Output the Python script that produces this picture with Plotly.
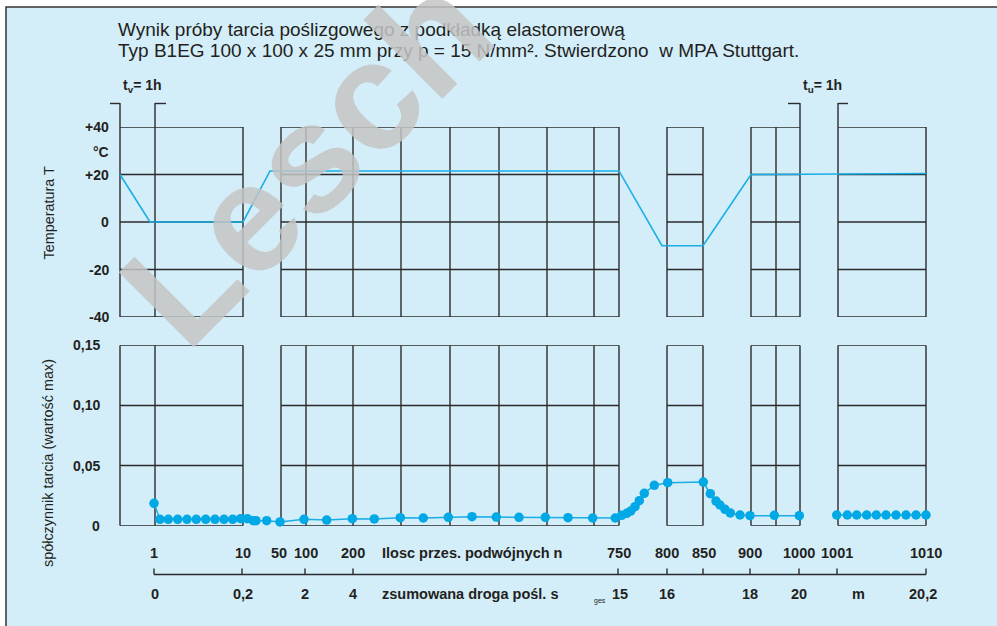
import plotly.graph_objects as go

# ---------------- data ----------------
# Horizontal scale is a broken, non-linear cycle scale; values below are
# positions on that scale (scale units).
temp_pos = [120, 150, 243, 270, 619, 662, 703, 751, 926]
temp_vals = [20, 0, 0, 21.5, 21.5, -10, -10, 20, 20.4]

fric_pos_a = [154, 160, 168.3, 177.7, 187, 196.3, 205.7, 215, 224, 232.7, 240.7,
              247.3, 253.3, 256, 266.7, 280, 304, 326.7, 352.3, 374.3, 400.3,
              423.3, 448.3, 472, 496.3, 519, 545.3, 568, 592.7, 615.3, 621.7,
              626.7, 630.7, 635, 639.3, 644.3, 654.3, 667.7, 703.3, 710.3, 716,
              720, 725, 730.3, 740, 750, 774.3, 799.3]
fric_vals_a = [0.0186, 0.0053, 0.0053, 0.0053, 0.0053, 0.0053, 0.0053, 0.0053, 0.0053, 0.0053, 0.0058,
               0.0058, 0.0042, 0.0042, 0.0042, 0.0031, 0.0053, 0.0047, 0.0058, 0.0056, 0.0067,
               0.0064, 0.0070, 0.0075, 0.0072, 0.0070, 0.0070, 0.0067, 0.0064, 0.0064, 0.0086,
               0.0103, 0.0122, 0.0158, 0.0208, 0.0269, 0.0336, 0.0358, 0.0363, 0.0266, 0.0205,
               0.0172, 0.0136, 0.0106, 0.0089, 0.0083, 0.0086, 0.0083]
fric_pos_b = [836.7, 847.3, 856.7, 866.7, 876.3, 886, 896, 906, 916, 926]
fric_vals_b = [0.0089] * 10

temp_ticks = [40, 20, 0, -20, -40]
temp_tick_text = ["+40", "+20", "0", "-20", "-40"]
fric_ticks = [0.15, 0.10, 0.05, 0]
fric_tick_text = ["0,15", "0,10", "0,05", "0"]

cycle_labels = ["1", "10", "50", "100", "200", "750", "800", "850", "900", "1000", "1001", "1010"]
dist_labels = ["0", "0,2", "2", "4", "15", "16", "18", "20", "m", "20,2"]

title_1 = "Wynik próby tarcia poślizgowego z podkładką elastomerową"
title_2 = "Typ B1EG 100 x 100 x 25 mm przy p = 15 N/mm². Stwierdzono\u00a0\u00a0w MPA Stuttgart."

# ---------------- layout constants ----------------
W, H = 997, 626
BLUE_BG = "#d3edf9"
INK = "#231f20"
GRID = "#2b2b2b"
LINE_BLUE = "#1aaee6"
MARK_BLUE = "#00a8e6"
FONT = "Liberation Sans, Arial, sans-serif"

boxes = [(120, 243), (281, 619), (667, 703), (751, 800), (838, 926)]
inner_lines = [155, 306, 353, 401, 450, 499, 547, 594, 776]
cycle_label_pos = [154, 242.5, 279, 305.5, 352.5, 619, 667, 703.5, 750, 799, 836.7, 926]
dist_label_pos = [155, 242.5, 305, 352.5, 620, 667, 749.5, 799, 858, 923]
axis_tick_pos = [154, 242, 305, 353, 618, 667, 703, 750, 799, 837, 926]


def py(p):
    """pixel-from-top to paper fraction"""
    return 1 - p / H


shapes = []
# blue frame
shapes.append(dict(type="rect", xref="paper", yref="paper", x0=6 / W, x1=1.01, y0=-0.01, y1=py(7),
                   fillcolor=BLUE_BG, line=dict(color="#333333", width=1.5), layer="below"))


def hline(x0, x1, y, yref):
    shapes.append(dict(type="line", xref="x", yref=yref, x0=x0, x1=x1, y0=y, y1=y,
                       line=dict(color=GRID, width=1.4), layer="below"))


def vline(x, y0, y1, yref):
    shapes.append(dict(type="line", xref="x", yref=yref, x0=x, x1=x, y0=y0, y1=y1,
                       line=dict(color=GRID, width=1.4), layer="below"))


for (a, b) in boxes:
    for t in temp_ticks:
        hline(a, b, t, "y")
    for f in fric_ticks:
        hline(a, b, f, "y2")
    for xx in (a, b):
        vline(xx, -40, 40, "y")
        vline(xx, 0, 0.15, "y2")
    for xx in inner_lines:
        if a < xx < b:
            vline(xx, -40, 40, "y")
            vline(xx, 0, 0.15, "y2")

# t_v / t_u markers above temperature panel
for xx in (120, 155, 800, 838):
    shapes.append(dict(type="line", xref="x", yref="paper", x0=xx, x1=xx, y0=py(103), y1=py(127),
                       line=dict(color=GRID, width=1.4), layer="below"))
for (a, b) in [(110, 120), (155, 166), (788, 800), (838, 848)]:
    shapes.append(dict(type="line", xref="x", yref="paper", x0=a, x1=b, y0=py(103.5), y1=py(103.5),
                       line=dict(color=GRID, width=1.4), layer="below"))

# bottom double scale axis
shapes.append(dict(type="line", xref="x", yref="paper", x0=axis_tick_pos[0], x1=axis_tick_pos[-1],
                   y0=py(574.5), y1=py(574.5), line=dict(color=GRID, width=1.4), layer="below"))
for xx in axis_tick_pos:
    shapes.append(dict(type="line", xref="x", yref="paper", x0=xx, x1=xx, y0=py(574.5), y1=py(568.5),
                       line=dict(color=GRID, width=1.4), layer="below"))

annotations = []


def txt(x, y, text, size=14, xanchor="center", bold=True, yref="paper", color=INK, angle=0, family=FONT):
    annotations.append(dict(x=x, y=y, xref="x", yref=yref, text=(f"<b>{text}</b>" if bold else text),
                            showarrow=False, xanchor=xanchor, yanchor="middle", textangle=angle,
                            font=dict(family=family, size=size, color=color)))


# titles
txt(116, py(29.7), title_1, size=19, xanchor="left", bold=False)
txt(116, py(50), title_2, size=19, xanchor="left", bold=False)

# y tick labels
for t, s in zip(temp_ticks, temp_tick_text):
    txt(110.5, t, s, yref="y", xanchor="right")
txt(110.5, py(152), "°C", xanchor="right")
for f, s in zip(fric_ticks, fric_tick_text):
    txt(102, f, s, yref="y2", xanchor="right")

# y titles
txt(48, py(212.5), "Temperatura T", size=14.4, bold=False, angle=-90)
txt(48, py(463), "spółczynnik tarcia (wartość max)", size=14.4, bold=False, angle=-90)

# t_v / t_u
txt(121, py(86), "t<sub>v</sub>= 1h", xanchor="left")
txt(800.5, py(86), "t<sub>u</sub>= 1h", xanchor="left")

# bottom labels
for p, s in zip(cycle_label_pos, cycle_labels):
    txt(p, py(553), s, size=14.5)
txt(380, py(553), "Ilosc przes. podwójnych n", size=14.5, xanchor="left")
for p, s in zip(dist_label_pos, dist_labels):
    txt(p, py(593.5), s, size=14.5)
txt(380, py(593.5), "zsumowana droga pośl. s", size=14.5, xanchor="left")
txt(600, py(601), "ges", size=7, bold=False)

# watermark
annotations.append(dict(x=306, y=py(160), xref="x", yref="paper", text="<b>Lesch</b>", showarrow=False,
                        textangle=-45, xanchor="center", yanchor="middle",
                        font=dict(family=FONT, size=154, color="rgba(196,196,196,0.85)")))

fig = go.Figure()
fig.add_trace(go.Scatter(x=temp_pos, y=temp_vals, mode="lines", yaxis="y",
                         line=dict(color=LINE_BLUE, width=1.6), showlegend=False, hoverinfo="skip"))
fig.add_trace(go.Scatter(x=fric_pos_a, y=fric_vals_a, mode="lines+markers", yaxis="y2",
                         line=dict(color=LINE_BLUE, width=1.5),
                         marker=dict(color=MARK_BLUE, size=9.5), showlegend=False, cliponaxis=False))
fig.add_trace(go.Scatter(x=fric_pos_b, y=fric_vals_b, mode="lines+markers", yaxis="y2",
                         line=dict(color=LINE_BLUE, width=1.5),
                         marker=dict(color=MARK_BLUE, size=9.5), showlegend=False, cliponaxis=False))

fig.update_layout(
    width=W, height=H,
    margin=dict(l=0, r=0, t=0, b=0, pad=0),
    paper_bgcolor="white", plot_bgcolor="rgba(0,0,0,0)",
    xaxis=dict(range=[0, W], domain=[0, 1], visible=False, fixedrange=True),
    yaxis=dict(range=[-40, 40], domain=[py(317), py(127)], visible=False, fixedrange=True),
    yaxis2=dict(range=[0, 0.15], domain=[py(525.7), py(345.3)], visible=False, fixedrange=True,
                anchor="x"),
    shapes=shapes,
    annotations=annotations,
    showlegend=False,
)

fig.write_html("out.html", config={"displayModeBar": False},
               post_script="document.body.style.margin='0';document.body.style.overflow='hidden';")
